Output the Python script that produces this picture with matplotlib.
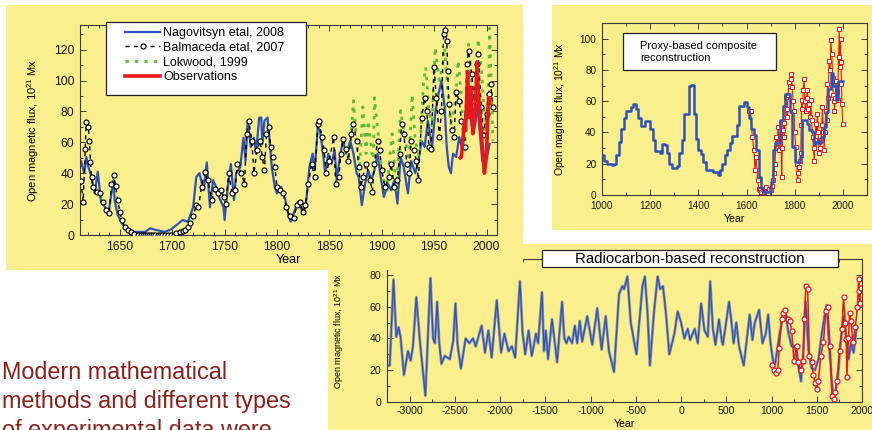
import matplotlib
matplotlib.use("Agg")
import matplotlib.pyplot as plt
from matplotlib.patches import Rectangle
from matplotlib.ticker import MultipleLocator

# ---- data (year, open magnetic flux 10^21 Mx) ----
nagovitsyn = [(1612, 44), (1613, 48), (1616, 40), (1618, 50.5), (1620, 44), (1623, 37.6), (1626, 27),
              (1629, 41), (1632, 21.5), (1636, 18), (1639, 13), (1642, 27), (1644, 35.5), (1645, 22.6),
              (1648, 13), (1652, 7.5), (1656, 4.3), (1664, 2), (1674, 2), (1679, 4.3), (1685, 3.2),
              (1693, 2), (1699, 3.7), (1706, 7.5), (1710, 9.7), (1715, 8.6), (1720, 18), (1723, 37.6),
              (1726, 40), (1730, 29), (1733, 47), (1736, 18), (1739, 35.5), (1742, 31), (1745, 24),
              (1749, 18), (1750, 9.7), (1753, 31), (1756, 46), (1759, 22.6), (1761, 40), (1765, 44),
              (1768, 63), (1770, 48), (1772, 74), (1775, 57), (1778, 63), (1780, 52.7), (1783, 76),
              (1785, 76), (1786, 59), (1788, 74), (1791, 76), (1793, 61), (1795, 44), (1798, 31),
              (1800, 27), (1804, 31), (1808, 22.6), (1811, 13), (1813, 8.6), (1816, 14), (1820, 21.5),
              (1823, 17), (1826, 14), (1828, 22.6), (1831, 44), (1834, 52.7), (1836, 42), (1839, 70),
              (1841, 68), (1844, 52.7), (1846, 40), (1849, 52.7), (1852, 46), (1855, 55), (1857, 35.5),
              (1860, 50.5), (1863, 61), (1866, 52.7), (1870, 61), (1873, 52.7), (1876, 40), (1878, 37.6),
              (1881, 19.4), (1884, 33), (1887, 42), (1890, 35.5), (1893, 42), (1896, 52.7), (1899, 37.6),
              (1902, 24.7), (1906, 33), (1909, 29), (1912, 35.5), (1915, 20.4), (1918, 50.5), (1921, 44),
              (1925, 27), (1928, 48), (1932, 40), (1935, 48), (1938, 61), (1941, 57), (1944, 74),
              (1948, 57), (1951, 78.5), (1954, 91), (1957, 100), (1960, 83), (1962, 57), (1964, 44),
              (1966, 40), (1968, 52.7), (1971, 50.5), (1974, 63.4), (1977, 55), (1979, 74), (1983, 93.5),
              (1985, 74), (1987, 65.6), (1991, 85), (1993, 70), (1996, 48), (1999, 44), (2001, 52.7),
              (2003, 59)]

balmaceda = [(1613, 35), (1615, 21.5), (1617, 56), (1618, 73), (1620, 70), (1621, 61), (1622, 47),
             (1623, 37.6), (1624, 31), (1628, 28), (1631, 27), (1634, 21.5), (1637, 16), (1640, 14),
             (1642, 33), (1644, 38.7), (1646, 32), (1648, 22.6), (1650, 15), (1652, 9.7), (1655, 5.4),
             (1658, 3), (1661, 2), (1664, 0.5), (1667, 0), (1670, 0), (1672, 0), (1674, 0), (1676, 0),
             (1678, 0), (1680, 0), (1682, 0), (1684, 0), (1686, 0), (1688, 0), (1690, 0), (1693, 0),
             (1696, 0), (1699, 0), (1702, 0), (1704, 1), (1707, 2), (1710, 2.5), (1712, 3.2), (1715, 5),
             (1717, 7.5), (1720, 12), (1723, 19.4), (1725, 18), (1728, 31), (1731, 41), (1734, 35.5),
             (1738, 22.6), (1741, 30), (1744, 27), (1747, 29), (1749, 24.7), (1751, 20), (1754, 40),
             (1757, 27), (1760, 29), (1762, 46), (1766, 40), (1769, 33), (1771, 65.6), (1773, 74),
             (1776, 61), (1778, 40), (1781, 55), (1784, 61), (1786, 50.5), (1788, 42), (1790, 65.6),
             (1792, 70), (1794, 57), (1796, 50.5), (1798, 44), (1800, 31), (1803, 29), (1806, 27),
             (1809, 18), (1812, 12), (1816, 10.8), (1819, 19.4), (1822, 21.5), (1825, 15), (1827, 19.4),
             (1830, 33), (1833, 46), (1836, 37.6), (1839, 72), (1840, 74), (1843, 63.4), (1845, 55),
             (1847, 40), (1850, 48), (1854, 63.4), (1856, 33), (1859, 37.6), (1861, 52.7), (1863, 62),
             (1866, 56), (1868, 48), (1871, 65.6), (1873, 72), (1876, 61), (1878, 44), (1880, 31),
             (1882, 37.6), (1885, 46), (1889, 35.5), (1891, 28), (1893, 46), (1896, 61), (1898, 55),
             (1900, 42), (1903, 31), (1907, 37.6), (1909, 46), (1912, 31), (1915, 35.5), (1917, 52.7),
             (1919, 72), (1921, 65.6), (1924, 46), (1926, 40), (1928, 61), (1931, 55), (1933, 48),
             (1935, 35.5), (1938, 76), (1941, 89), (1943, 80.6), (1945, 57), (1947, 56), (1950, 108.6),
             (1952, 89), (1955, 63.4), (1957, 80.6), (1959, 130), (1960, 133), (1962, 125.8),
             (1963, 106), (1964, 85), (1967, 67.7), (1969, 63.4), (1971, 92.5), (1974, 87), (1976, 74),
             (1979, 57), (1981, 110.8), (1983, 119), (1986, 104), (1988, 87), (1991, 110.8), (1992, 117),
             (1995, 83), (1997, 64.5), (2000, 78.5), (2002, 91), (2004, 98), (2006, 83)]

lockwood = [(1868, 50), (1871, 66), (1873, 87), (1876, 60), (1879, 45), (1882, 83), (1885, 52.7),
            (1887, 74), (1892, 46), (1893, 89), (1897, 63), (1900, 40), (1905, 29), (1908, 52.7),
            (1910, 65.6), (1914, 27), (1918, 80.6), (1921, 67.7), (1926, 48), (1929, 91), (1932, 61),
            (1936, 50.5), (1940, 100), (1942, 108.6), (1945, 80.6), (1948, 70), (1951, 121.5),
            (1955, 100), (1958, 108.6), (1960, 121.5), (1963, 93.5), (1966, 72), (1970, 85), (1973, 113),
            (1976, 89), (1979, 52.7), (1983, 123.7), (1986, 95.7), (1989, 78.5), (1992, 127),
            (1995, 108.6), (1999, 67.7), (2002, 100), (2003, 134), (2006, 61)]

observations = [(1975, 50), (1976, 50.5), (1979, 74), (1980, 67.7), (1982, 106), (1983, 76),
                (1985, 95.7), (1987, 65.6), (1989, 74), (1991, 112), (1992, 95.7), (1995, 65.6),
                (1997, 48), (1998, 40), (2000, 52.7), (2002, 89), (2003, 85)]

# proxy-based composite (decadal steps) and annual series
proxy_years = list(range(1000, 2000, 10))
proxy_flux = [25.5, 22, 20, 20, 19.5, 20, 25.5, 34, 42.5, 49,
              53.6, 53.6, 56, 58, 55, 49, 44, 44, 47.4, 47.4,
              42.5, 35, 28, 28, 26.6, 32.5, 32, 26.6, 20, 17,
              17, 18.5, 26.6, 35, 52, 52, 69.6, 70.6, 52, 36,
              28.7, 26, 21, 16, 16, 16, 15, 15, 12.8, 16,
              20, 25.5, 29, 33, 37.7, 37.7, 44.7, 56.8, 56.8, 59.6,
              56.4, 49, 42.5, 38.3, 28.7, 11.7, 4.3, 2, 2, 2,
              8.5, 28.7, 33, 33, 48, 57, 64.5, 64.5, 53, 31,
              21, 21, 24.5, 48, 48, 45.7, 41.5, 40.4, 32.5, 34,
              33, 37, 43.6, 53, 68, 78, 70, 60.6, 73, 73]

proxy_annual = [(1612, 54), (1617, 54), (1624, 37), (1631, 29), (1635, 16), (1640, 24), (1646, 9.6),
                (1651, 4), (1656, 3), (1662, 2), (1668, 4), (1674, 2), (1679, 5), (1685, 2), (1690, 1),
                (1695, 4), (1700, 3), (1705, 6), (1710, 9.6), (1714, 14), (1718, 20), (1721, 30),
                (1724, 37), (1727, 33), (1731, 43.6), (1735, 28.7), (1738, 40), (1742, 45.7), (1746, 11.7),
                (1748, 30), (1751, 41.5), (1754, 46), (1757, 37), (1760, 50), (1763, 62.8), (1766, 55),
                (1769, 50), (1772, 64), (1776, 72), (1779, 70), (1783, 77.7), (1786, 74), (1790, 69),
                (1793, 60), (1797, 54), (1800, 40), (1804, 31), (1808, 20), (1812, 9.6), (1815, 14),
                (1818, 18), (1822, 22), (1825, 26.6), (1827, 45), (1829, 60.6), (1832, 55), (1835, 67),
                (1839, 74.5), (1842, 60), (1846, 54), (1849, 62), (1853, 67), (1856, 55), (1860, 58.5),
                (1864, 50), (1867, 60.6), (1870, 48), (1874, 37), (1878, 30), (1881, 22), (1884, 35),
                (1888, 45.7), (1891, 40), (1894, 52), (1897, 40), (1901, 26.6), (1905, 30), (1910, 35),
                (1913, 45), (1915, 56), (1919, 40), (1922, 28.7), (1925, 40), (1929, 54), (1932, 48),
                (1936, 71), (1939, 62), (1943, 86), (1947, 80), (1950, 99), (1954, 90), (1957, 75),
                (1960, 64), (1963, 60), (1965, 54), (1968, 62), (1971, 73), (1975, 66), (1978, 60.6),
                (1982, 88), (1985, 106), (1988, 82), (1990, 100), (1992, 85), (1994, 71), (1996, 58),
                (1999, 45.7)]

# radiocarbon-based reconstruction
radiocarbon = [(-3250, 23), (-3220, 23), (-3178, 77), (-3148, 41), (-3122, 47), (-3100, 41), (-3063, 17),
               (-3018, 32), (-2989, 26), (-2963, 35), (-2926, 66), (-2889, 40), (-2826, 4), (-2770, 78),
               (-2741, 40), (-2720, 37), (-2696, 63), (-2674, 38), (-2648, 24), (-2611, 29), (-2556, 27),
               (-2519, 38), (-2493, 62), (-2470, 36), (-2433, 21), (-2381, 40), (-2340, 37), (-2300, 40),
               (-2270, 35), (-2204, 48), (-2167, 31), (-2130, 45), (-2093, 28), (-2037, 64), (-1989, 31),
               (-1952, 43), (-1907, 32), (-1870, 35), (-1833, 28), (-1781, 76), (-1752, 44), (-1722, 30),
               (-1685, 45), (-1650, 29), (-1604, 43), (-1580, 37), (-1537, 69), (-1515, 32), (-1495, 45),
               (-1470, 27), (-1426, 52), (-1370, 25), (-1315, 63), (-1290, 40), (-1267, 37), (-1242, 41),
               (-1204, 37), (-1174, 48), (-1148, 37), (-1119, 51), (-1093, 38), (-1037, 54), (-981, 36),
               (-926, 59), (-878, 33), (-833, 54), (-797, 32), (-741, 19), (-685, 68), (-648, 73),
               (-630, 71), (-593, 79), (-556, 50), (-493, 30), (-426, 73), (-400, 79), (-370, 56),
               (-344, 23), (-300, 56), (-259, 79), (-230, 71), (-200, 73), (-167, 56), (-130, 30),
               (-74, 43), (-37, 57), (0, 50), (37, 40), (74, 46), (100, 39), (150, 46), (185, 37),
               (222, 62), (259, 45), (296, 41), (322, 76), (352, 46), (381, 36), (419, 52), (452, 38),
               (463, 36), (530, 63), (556, 51), (581, 37), (611, 50), (641, 35), (693, 23), (759, 55),
               (789, 39), (815, 50), (863, 58), (900, 37), (937, 43), (963, 55), (989, 37), (1019, 25),
               (1037, 23), (1093, 44), (1130, 55), (1159, 54), (1185, 44), (1222, 35), (1259, 35),
               (1296, 23), (1326, 13), (1352, 33), (1378, 63), (1407, 33), (1444, 21), (1481, 20),
               (1519, 27), (1556, 43), (1593, 57), (1611, 61), (1637, 35), (1685, 0), (1733, 15),
               (1759, 35), (1796, 54), (1826, 40), (1852, 27), (1878, 37), (1907, 31), (1937, 45),
               (1950, 47)]

radiocarbon_red = [(1010, 23), (1030, 20), (1050, 18), (1070, 20), (1085, 34), (1111, 52), (1130, 56),
                   (1148, 58), (1178, 52), (1204, 51), (1222, 45), (1248, 26), (1278, 35), (1296, 25),
                   (1326, 20), (1352, 26), (1360, 52), (1381, 73), (1400, 71), (1418, 29), (1444, 25),
                   (1463, 17), (1480, 12), (1500, 8), (1519, 13.5), (1544, 29), (1574, 37.5), (1600, 57),
                   (1619, 60), (1648, 35), (1667, 4), (1685, 2), (1705, 6), (1722, 13.5), (1752, 32),
                   (1778, 46), (1796, 66), (1815, 50), (1826, 39.5), (1833, 15.6), (1850, 40), (1863, 56),
                   (1878, 51), (1900, 37.5), (1926, 47), (1950, 60), (1963, 77.5), (1970, 70), (1975, 62),
                   (1985, 72), (1990, 72)]

legend_labels = ["Nagovitsyn etal, 2008", "Balmaceda etal, 2007", "Lokwood, 1999", "Observations"]
ylabel = "Open magnetic flux, 10$^{21}$ Mx"
slide_text = ["Modern mathematical", "methods and different types", "of experimental data were"]

W, H = 872, 430
YELLOW = "#F9EF8C"
BLUE = "#2F52B8"
RED = "#E8161D"
GREEN = "#5CBB3C"

plt.rcParams["font.family"] = "Liberation Sans"
plt.rcParams["mathtext.fontset"] = "custom"
plt.rcParams["mathtext.rm"] = "Liberation Sans"
plt.rcParams["axes.unicode_minus"] = False


def unzip(pairs):
    return [p[0] for p in pairs], [p[1] for p in pairs]


def fig_rect(x0, y0, x1, y1):
    # pixel box (top-left origin) -> figure fraction
    return [x0 / W, 1 - y1 / H, (x1 - x0) / W, (y1 - y0) / H]


def yellow_panel(x0, y0, x1, y1, z):
    fig.add_artist(Rectangle((x0 / W, 1 - y1 / H), (x1 - x0) / W, (y1 - y0) / H,
                             transform=fig.transFigure, facecolor=YELLOW,
                             edgecolor="none", zorder=z))


def style(ax, size, direction):
    ax.set_facecolor("none")
    for s in ax.spines.values():
        s.set_linewidth(0.8)
        s.set_color("#3a3a3a")
    ax.tick_params(which="both", direction=direction, top=True, right=True,
                   labelsize=size, color="#3a3a3a", labelcolor="#1a1a1a", width=0.7)
    ax.tick_params(which="major", length=4, pad=4)
    ax.tick_params(which="minor", length=2.5)


fig = plt.figure(figsize=(W / 100, H / 100), dpi=100)
fig.patch.set_facecolor("white")

# ---- radiocarbon panel (bottom right) ----
yellow_panel(328, 244, 872, 430, -3)
ax3 = fig.add_axes(fig_rect(387, 259, 862, 402))
ax3.set_zorder(-2)
style(ax3, 7.6, "in")
x, y = unzip(radiocarbon)
ax3.plot(x, y, color="#8c93a8", lw=2.0)
ax3.plot(x, y, color=BLUE, lw=0.9)
x, y = unzip(radiocarbon_red)
ax3.plot(x, y, color=RED, lw=1.1, marker="o", ms=3.6, mfc="white", mec=RED, mew=0.9)
ax3.set_xlim(-3250, 2000)
ax3.set_ylim(0, 90)
ax3.xaxis.set_major_locator(MultipleLocator(500))
ax3.xaxis.set_minor_locator(MultipleLocator(250))
ax3.yaxis.set_major_locator(MultipleLocator(20))
ax3.yaxis.set_minor_locator(MultipleLocator(10))
ax3.tick_params(axis="x", pad=3)
ax3.set_ylabel(ylabel, fontsize=6.5)
ax3.yaxis.set_label_coords(-0.086, 0.5)
ax3.set_xlabel("Year", fontsize=7.6)
ax3.xaxis.set_label_coords(0.5, -0.118)
ax3.add_patch(Rectangle((0.326, 0.944), 0.623, 0.119, transform=ax3.transAxes,
                        facecolor="white", edgecolor="#222222", lw=0.9, clip_on=False, zorder=5))
ax3.text(0.638, 1.003, "Radiocarbon-based reconstruction", transform=ax3.transAxes,
         ha="center", va="center", fontsize=10.8, zorder=6)

# ---- main panel (top left) ----
yellow_panel(6, 5, 523, 270, -1)
ax1 = fig.add_axes(fig_rect(80, 25, 497, 235))
style(ax1, 8.7, "in")
x, y = unzip(nagovitsyn)
l_nag, = ax1.plot(x, y, color=BLUE, lw=1.6, zorder=2)
x, y = unzip(lockwood)
l_lok, = ax1.plot(x, y, color=GREEN, lw=2.0, linestyle=(0, (1.2, 2.2)), zorder=3)
x, y = unzip(balmaceda)
l_bal, = ax1.plot(x, y, color="black", lw=1.0, linestyle=(0, (3, 3)), marker="o", ms=3.6,
                  mfc="white", mec="black", mew=0.8, zorder=4)
x, y = unzip(observations)
l_obs, = ax1.plot(x, y, color=RED, lw=2.6, zorder=5)
ax1.set_xlim(1612, 2010)
ax1.set_ylim(0, 136)
ax1.xaxis.set_major_locator(MultipleLocator(50))
ax1.xaxis.set_minor_locator(MultipleLocator(10))
ax1.yaxis.set_major_locator(MultipleLocator(20))
ax1.yaxis.set_minor_locator(MultipleLocator(10))
ax1.set_ylabel(ylabel, fontsize=8)
ax1.yaxis.set_label_coords(-0.094, 0.5)
ax1.set_xlabel("Year", fontsize=9)
ax1.xaxis.set_label_coords(0.5, -0.092)
# legend frame drawn separately so the padding can match the slide
ax1.add_patch(Rectangle((0.062, 0.667), 0.48, 0.347, transform=ax1.transAxes,
                        facecolor="white", edgecolor="#222222", lw=0.9, clip_on=False, zorder=6))
leg = ax1.legend([l_nag, l_bal, l_lok, l_obs], legend_labels, loc="upper left",
                 bbox_to_anchor=(0.108, 0.99), borderaxespad=0, borderpad=0, fontsize=9,
                 numpoints=1, handlelength=2.8, labelspacing=0.22, handletextpad=0.25,
                 frameon=False)
leg.set_zorder(7)

# ---- proxy-based composite (top right) ----
yellow_panel(552, 5, 872, 230, -1)
ax2 = fig.add_axes(fig_rect(602, 23, 867, 195))
style(ax2, 7.2, "in")
x, y = unzip(proxy_annual)
ax2.plot(x, y, color=RED, lw=0.8, marker="s", ms=2.6, mfc="white", mec=RED, mew=0.7, zorder=2)
ax2.plot(proxy_years + [2000], proxy_flux + [proxy_flux[-1]], drawstyle="steps-post",
         color=BLUE, lw=1.8, zorder=3)
ax2.set_xlim(1000, 2100)
ax2.set_ylim(0, 110)
ax2.xaxis.set_major_locator(MultipleLocator(200))
ax2.xaxis.set_minor_locator(MultipleLocator(100))
ax2.yaxis.set_major_locator(MultipleLocator(20))
ax2.yaxis.set_minor_locator(MultipleLocator(10))
ax2.set_ylabel(ylabel, fontsize=7.5)
ax2.yaxis.set_label_coords(-0.128, 0.5)
ax2.set_xlabel("Year", fontsize=7.6)
ax2.xaxis.set_label_coords(0.5, -0.112)
ax2.add_patch(Rectangle((0.079, 0.727), 0.578, 0.215, transform=ax2.transAxes,
                        facecolor="white", edgecolor="#222222", lw=0.9, zorder=5))
ax2.text(0.143, 0.834, "Proxy-based composite\nreconstruction", transform=ax2.transAxes,
         ha="left", va="center", fontsize=8, linespacing=1.25, zorder=6)

# ---- slide text ----
for i, line in enumerate(slide_text):
    fig.text(2 / W, 1 - (379 + 29 * i) / H, line, fontsize=16.8, color="#8C1D18",
             ha="left", va="baseline")

fig.savefig("out.png", dpi=100, facecolor="white")
